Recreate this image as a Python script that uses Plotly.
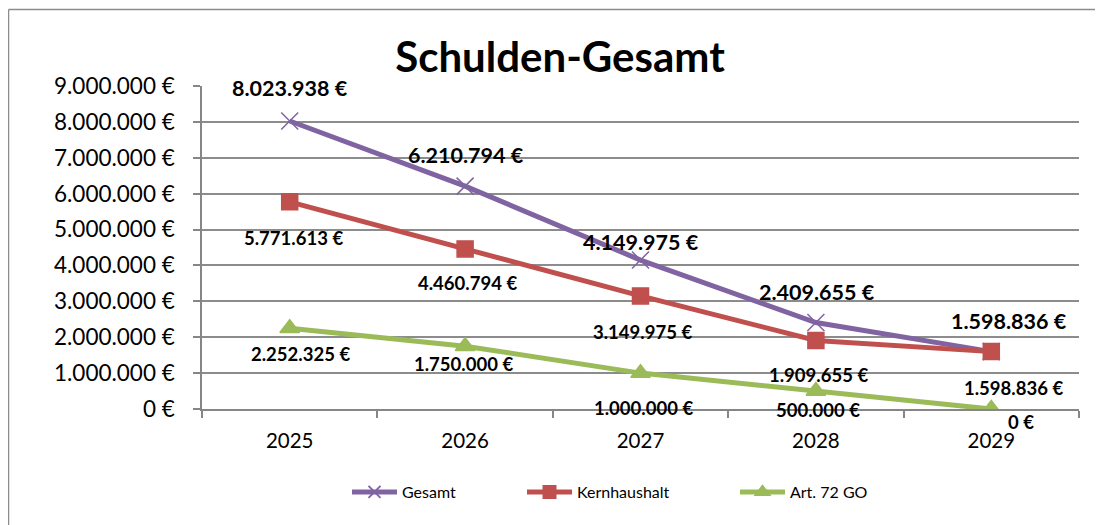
import plotly.graph_objects as go

years = ["2025", "2026", "2027", "2028", "2029"]
gesamt = [8023938, 6210794, 4149975, 2409655, 1598836]
kernhaushalt = [5771613, 4460794, 3149975, 1909655, 1598836]
art72 = [2252325, 1750000, 1000000, 500000, 0]
series_names = ["Gesamt", "Kernhaushalt", "Art. 72 GO"]
y_ticks = [0, 1000000, 2000000, 3000000, 4000000, 5000000, 6000000, 7000000, 8000000, 9000000]

FONT = "Lato, Calibri, Carlito, sans-serif"
colors = ["#8064A2", "#C0504D", "#9BBB59"]
symbols = ["x-thin-open", "square", "triangle-up"]
msizes = [17, 16, 17]
label_sizes = [21.5, 18.5, 18.5]
# label offsets (px) per series per point: (dx, dy) where dy positive = up
label_offsets = [
    [(0, 33), (1, 31), (0, 18), (1, 31), (18, 31)],
    [(4, -36), (2, -34), (2, -36), (3, -35), (22, -36)],
    [(11, -26), (-2, -18), (3, -35), (2, -19), (30, -13)],
]

def fmt(v):
    return f"{v:,.0f}".replace(",", ".") + " €"

# page body has an 8px margin: figure coords = window coords - 8
OFF = 8
W, H = 1103 - OFF, 525 - OFF
L = 202 - OFF
R = W - (1079 - OFF)
T = 86 - OFF
B = H - (409 - OFF)
pw, ph = W - L - R, H - T - B

def px_x(xw):
    return (xw - OFF - L) / pw

def px_y(yw):
    return (H - B - (yw - OFF)) / ph

legend_names = ["legend", "legend2", "legend3"]
legend_line_starts = [353, 528, 741]

fig = go.Figure()
all_series = [gesamt, kernhaushalt, art72]
for name, vals, col, sym, ms, lg in zip(series_names, all_series, colors, symbols, msizes, legend_names):
    fig.add_trace(go.Scatter(
        x=years, y=vals, name=name, mode="lines+markers", legend=lg,
        line=dict(color=col, width=5),
        marker=dict(symbol=sym, size=ms, color=col, line=dict(color=col, width=1.5)),
    ))

annotations = []
for vals, offs, fs in zip(all_series, label_offsets, label_sizes):
    for i, (v, (dx, dy)) in enumerate(zip(vals, offs)):
        annotations.append(dict(
            x=i, y=v, xref="x", yref="y", text="<b>" + fmt(v) + "</b>", showarrow=False,
            xshift=dx, yshift=dy, font=dict(family=FONT, size=fs, color="#000000"),
        ))

legends = {}
for lg, xs in zip(legend_names, legend_line_starts):
    legends[lg] = dict(
        orientation="h", x=px_x(xs - 6), xanchor="left", y=px_y(492), yanchor="middle",
        font=dict(family=FONT, size=16, color="#000000"), itemwidth=45, itemsizing="constant",
        bgcolor="rgba(0,0,0,0)",
    )

fig.update_layout(
    width=W, height=H,
    margin=dict(l=L, r=R, t=T, b=B, autoexpand=False),
    paper_bgcolor="white", plot_bgcolor="white",
    font=dict(family=FONT, color="#000000"),
    separators=",.",
    title=dict(text="<b>Schulden-Gesamt</b>", x=px_x(560), xref="paper", xanchor="center",
               y=1 - (57 - OFF) / H, yref="container", yanchor="middle",
               font=dict(family=FONT, size=42, color="#000000")),
    showlegend=True,
    annotations=annotations,
    shapes=[
        dict(type="line", xref="paper", yref="paper", x0=px_x(8.5), x1=px_x(8.5), y0=-1, y1=px_y(9.5),
             line=dict(color="#8C8C8C", width=1.5)),
        dict(type="line", xref="paper", yref="paper", x0=px_x(8.5), x1=1.1, y0=px_y(9.5), y1=px_y(9.5),
             line=dict(color="#8C8C8C", width=1.5)),
    ],
    **legends,
)

fig.update_xaxes(
    type="category", range=[-0.5, 4.5], tickson="boundaries", ticks="outside", ticklen=7,
    tickcolor="#868686", tickwidth=1.5, showline=True, linecolor="#868686", linewidth=1.5,
    showgrid=False, tickfont=dict(family=FONT, size=20.5, color="#000000"), ticklabelstandoff=13,
    zeroline=False,
)
fig.update_yaxes(
    range=[0, 9000000], tickmode="array", tickvals=y_ticks, ticktext=[fmt(v) for v in y_ticks],
    ticks="outside", ticklen=7, tickcolor="#868686", tickwidth=1.5,
    showline=True, linecolor="#868686", linewidth=1.5,
    showgrid=True, gridcolor="#8C8C8C", gridwidth=1.5, zeroline=False,
    tickfont=dict(family=FONT, size=22.5, color="#000000"), ticklabelstandoff=14,
)

fig.write_html("out.html")
